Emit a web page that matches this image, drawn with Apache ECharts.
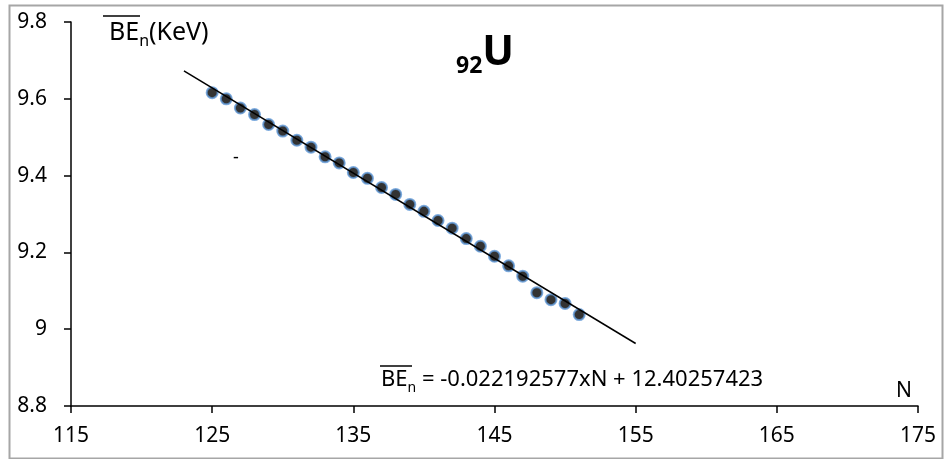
<!DOCTYPE html>
<html><head><meta charset="utf-8">
<script src="https://cdn.jsdelivr.net/npm/echarts@6/dist/echarts.min.js"></script>
<style>html,body{margin:0;padding:0;background:#fff}#c{width:948px;height:459px}</style>
</head><body><div id="c"></div>
<script>
// Neutron number N and mean binding energy per neutron (KeV) for 92U
const neutronNumbers = [125,126,127,128,129,130,131,132,133,134,135,136,137,138,139,140,141,142,143,144,145,146,147,148,149,150,151];
const bindingEnergies = [9.616,9.600,9.576,9.559,9.533,9.516,9.492,9.474,9.449,9.433,9.408,9.393,9.369,9.351,9.325,9.307,9.283,9.263,9.236,9.216,9.190,9.165,9.138,9.095,9.077,9.067,9.038];
// Linear fit: BE_n = slope*N + intercept
const fitSlope = [-0.022192577];
const fitIntercept = [12.40257423];
const fitRange = [123, 155];
const xAxisRange = [115, 175, 10];
const yAxisRange = [8.8, 9.8, 0.2];

const FONT = '"Noto Sans", "DejaVu Sans", sans-serif';
const chart = echarts.init(document.getElementById('c'), null, {renderer: 'canvas'});

const points = neutronNumbers.map((n, i) => [n, bindingEnergies[i]]);
const fitLine = fitRange.map(n => [n, fitSlope[0] * n + fitIntercept[0]]);
const eqText = ' = ' + fitSlope[0] + 'xN + ' + fitIntercept[0];

chart.setOption({
  animation: false,
  backgroundColor: '#fff',
  grid: {left: 71, right: 30, top: 22, bottom: 53, containLabel: false},
  xAxis: {
    type: 'value', min: xAxisRange[0], max: xAxisRange[1], interval: xAxisRange[2],
    axisLine: {onZero: false, lineStyle: {color: '#000', width: 1.5}},
    axisTick: {show: true, length: 7, inside: false, lineStyle: {color: '#000', width: 1.5}},
    axisLabel: {color: '#000', fontSize: 21, fontFamily: FONT, margin: 20},
    splitLine: {show: false}
  },
  yAxis: {
    type: 'value', min: yAxisRange[0], max: yAxisRange[1], interval: yAxisRange[2],
    axisLine: {show: true, onZero: false, lineStyle: {color: '#000', width: 1.5}},
    axisTick: {show: true, length: 7, lineStyle: {color: '#000', width: 1.5}},
    axisLabel: {color: '#000', fontSize: 21, fontFamily: FONT, margin: 24,
      formatter: v => String(parseFloat(v.toFixed(1)))},
    splitLine: {show: false}
  },
  series: [
    {
      type: 'scatter', data: points, symbol: 'circle', symbolSize: 11, z: 2,
      itemStyle: {color: '#000', borderColor: '#5f97d6', borderWidth: 2}
    },
    {
      type: 'line', data: fitLine, symbol: 'none', z: 3,
      lineStyle: {color: '#000', width: 1.5}
    }
  ],
  graphic: [
    {type: 'rect', left: 7, top: 3, shape: {width: 933, height: 453},
      style: {fill: 'none', stroke: '#a6a6a6', lineWidth: 2}, silent: true},
    {type: 'text', left: 109, top: 20, style: {
      text: '{a|BE}{s|n}{a|(KeV)}', fill: '#000',
      rich: {a: {fontSize: 25, fontFamily: FONT, lineHeight: 34, fill: '#000'},
             s: {fontSize: 16, fontFamily: FONT, lineHeight: 16, verticalAlign: 'bottom', fill: '#000'}}}},
    {type: 'line', shape: {x1: 103, y1: 16, x2: 140, y2: 16}, style: {stroke: '#000', lineWidth: 1.5}},
    {type: 'text', left: 456, top: 32, style: {
      text: '{s|92}{u|U}', fill: '#000',
      rich: {u: {fontSize: 42, fontWeight: 'bold', fontFamily: FONT, lineHeight: 50, fill: '#000'},
             s: {fontSize: 23, fontWeight: 'bold', fontFamily: FONT, lineHeight: 27, verticalAlign: 'bottom', fill: '#000'}}}},
    {type: 'text', left: 233, top: 149, style: {text: '-', fontSize: 18, fontFamily: FONT, fill: '#000'}},
    {type: 'text', left: 381, top: 369, style: {
      text: '{a|BE}{s|n}{a|' + eqText + '}', fill: '#000',
      rich: {a: {fontSize: 22, fontFamily: FONT, lineHeight: 30, fill: '#000'},
             s: {fontSize: 14, fontFamily: FONT, lineHeight: 14, verticalAlign: 'bottom', fill: '#000'}}}},
    {type: 'line', shape: {x1: 380, y1: 366, x2: 412, y2: 366}, style: {stroke: '#000', lineWidth: 1.5}},
    {type: 'text', left: 896, top: 381, style: {text: 'N', fontSize: 21, fontFamily: FONT, fill: '#000'}}
  ]
});
</script></body></html>
